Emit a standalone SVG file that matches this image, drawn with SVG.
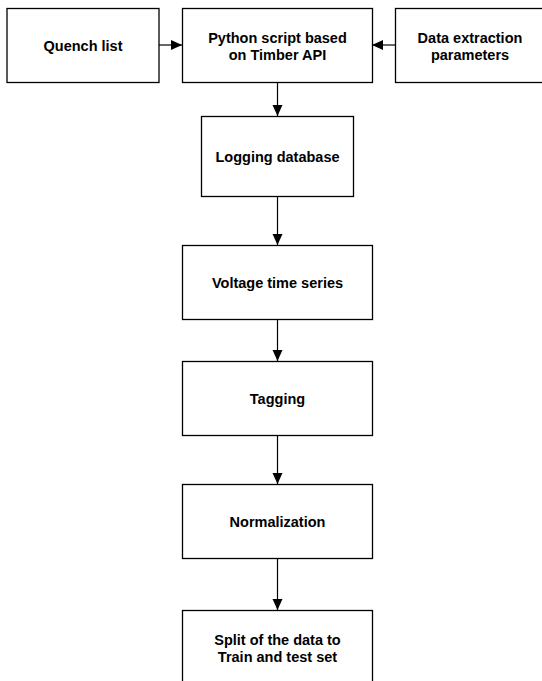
<svg xmlns="http://www.w3.org/2000/svg" width="542" height="681" viewBox="0 0 542 681">
<style>
.box{fill:#fff;stroke:#000;stroke-width:1.3}
text{font-family:"Liberation Sans",Arial,sans-serif;font-weight:bold;font-size:14.5px;text-anchor:middle;fill:#000}
.c{stroke:#000;stroke-width:1.2;fill:none;marker-end:url(#ah)}
</style>
<defs>
<marker id="ah" markerWidth="12" markerHeight="12" refX="11" refY="6" orient="auto" markerUnits="userSpaceOnUse"><path d="M0,1 L11,6 L0,11 Z" fill="#000"/></marker>
</defs>
<rect width="542" height="681" fill="#fff"/>
<g id="connectors">
<path class="c" d="M159,45 H182"/>
<path class="c" d="M395,45 H372"/>
<path class="c" d="M277.5,82 V116"/>
<path class="c" d="M277.5,196 V245"/>
<path class="c" d="M277.5,320 V361"/>
<path class="c" d="M277.5,435 V484"/>
<path class="c" d="M277.5,558 V610"/>
</g>
<g id="quench"><rect class="box" x="7" y="8.5" width="152" height="74"/><text x="83" y="50.5">Quench list</text></g>
<g id="python"><rect class="box" x="182.5" y="8.5" width="190" height="74"/><text x="277.5" y="42.5">Python script based</text><text x="277.5" y="59.5">on Timber API</text></g>
<g id="params"><rect class="box" x="395.5" y="8.5" width="150" height="74"/><text x="470" y="42.5">Data extraction</text><text x="470" y="59.5">parameters</text></g>
<g id="logging"><rect class="box" x="201.5" y="116.5" width="152" height="80"/><text x="277.5" y="161.5">Logging database</text></g>
<g id="voltage"><rect class="box" x="182.5" y="245.5" width="190" height="74"/><text x="277.5" y="287.5">Voltage time series</text></g>
<g id="tagging"><rect class="box" x="182.5" y="361.5" width="190" height="74"/><text x="277.5" y="403.5">Tagging</text></g>
<g id="normalization"><rect class="box" x="182.5" y="484.5" width="190" height="74"/><text x="277.5" y="526.5">Normalization</text></g>
<g id="split"><rect class="box" x="182.5" y="610.5" width="190" height="80"/><text x="277.5" y="644.5">Split of the data to</text><text x="277.5" y="661.5">Train and test set</text></g>
</svg>
